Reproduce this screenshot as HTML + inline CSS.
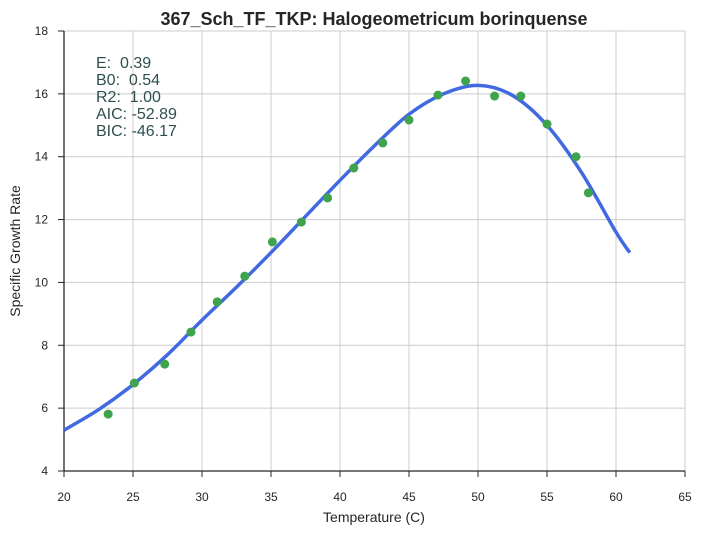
<!DOCTYPE html>
<html><head><meta charset="utf-8"><style>
body{margin:0;background:#fff;font-family:"Liberation Sans",sans-serif}
</style></head><body>
<svg id="chart" width="702" height="534" xmlns="http://www.w3.org/2000/svg">
<text x="374" y="25" text-anchor="middle" font-size="18" font-weight="bold" fill="#262626">367_Sch_TF_TKP: Halogeometricum borinquense</text>
<g id="grid"></g>
<g id="axes"></g>
<g id="marks"></g>
<g font-size="16" fill="#2f4f4f">
<text x="96" y="68">E:&#160; 0.39</text>
<text x="96" y="85">B0:&#160; 0.54</text>
<text x="96" y="102">R2:&#160; 1.00</text>
<text x="96" y="119">AIC: -52.89</text>
<text x="96" y="136">BIC: -46.17</text>
</g>
<text x="374" y="522" text-anchor="middle" font-size="14" fill="#262626">Temperature (C)</text>
<text transform="translate(20,251) rotate(-90)" text-anchor="middle" font-size="14" fill="#262626">Specific Growth Rate</text>
</svg>
<script>
const xTicks=[20,25,30,35,40,45,50,55,60,65];
const yTicks=[4,6,8,10,12,14,16,18];
const obsTemp=[23.2,25.1,27.3,29.2,31.1,33.1,35.1,37.2,39.1,41.0,43.1,45.0,47.1,49.1,51.2,53.1,55.0,57.1,58.0];
const obsRate=[5.81,6.8,7.4,8.42,9.38,10.2,11.29,11.92,12.69,13.64,14.44,15.17,15.96,16.41,15.93,15.93,15.04,14.0,12.85];
const fitTemp=[20,22.5,25,27.5,30,32.5,35,37.5,40,42.5,45,47.5,50,52.5,55,57.5,60,61];
const fitRate=[5.3,5.95,6.75,7.7,8.8,9.85,10.95,12.1,13.25,14.35,15.35,16.0,16.27,15.95,15.0,13.5,11.6,10.95];
const X0=64,X1=685,Y0=471,Y1=31;
const sx=v=>X0+(v-20)/45*(X1-X0);
const sy=v=>Y0-(v-4)/14*(Y0-Y1);
const NS="http://www.w3.org/2000/svg";
function mk(tag,attrs,parent){const e=document.createElementNS(NS,tag);for(const k in attrs)e.setAttribute(k,attrs[k]);document.getElementById(parent).appendChild(e);return e;}
xTicks.forEach(t=>{
 const g=mk('line',{x1:sx(t),x2:sx(t),y1:Y1,y2:Y0,stroke:'#cccccc','stroke-width':1},'grid');
 
 
 mk('line',{x1:sx(t),x2:sx(t),y1:Y0,y2:Y0+6,stroke:'#262626'},'axes');
 const l=mk('text',{x:sx(t),y:Y0+30,'text-anchor':'middle','font-size':12,fill:'#262626'},'axes');
 l.textContent=t;
 
 
});
yTicks.forEach(t=>{
 const g=mk('line',{x1:X0,x2:X1,y1:sy(t),y2:sy(t),stroke:'#cccccc','stroke-width':1},'grid');
 
 
 mk('line',{x1:X0-6,x2:X0,y1:sy(t),y2:sy(t),stroke:'#262626'},'axes');
 const l=mk('text',{x:X0-16,y:sy(t)+4,'text-anchor':'end','font-size':12,fill:'#262626'},'axes');
 l.textContent=t;
 
 
});
const ax=mk('line',{x1:X0,x2:X1,y1:Y0,y2:Y0,stroke:'#262626','stroke-width':1.3},'axes');


const ay=mk('line',{x1:X0,x2:X0,y1:Y1,y2:Y0,stroke:'#262626','stroke-width':1.3},'axes');


const P=fitTemp.map((t,i)=>[sx(t),sy(fitRate[i])]);
let d='M'+P[0][0]+','+P[0][1];
for(let i=0;i<P.length-1;i++){
 const p0=P[Math.max(i-1,0)],p1=P[i],p2=P[i+1],p3=P[Math.min(i+2,P.length-1)];
 const c1=[p1[0]+(p2[0]-p0[0])/6,p1[1]+(p2[1]-p0[1])/6];
 const c2=[p2[0]-(p3[0]-p1[0])/6,p2[1]-(p3[1]-p1[1])/6];
 d+=` C${c1[0]},${c1[1]} ${c2[0]},${c2[1]} ${p2[0]},${p2[1]}`;
}
const fit=mk('path',{d:d,fill:'none',stroke:'#4169e1','stroke-width':3.5},'marks');


obsTemp.forEach((t,i)=>{
 const c=mk('circle',{cx:sx(t),cy:sy(obsRate[i]),r:4.5,fill:'#3fa34d'},'marks');
 
 
});
</script>
</body></html>
